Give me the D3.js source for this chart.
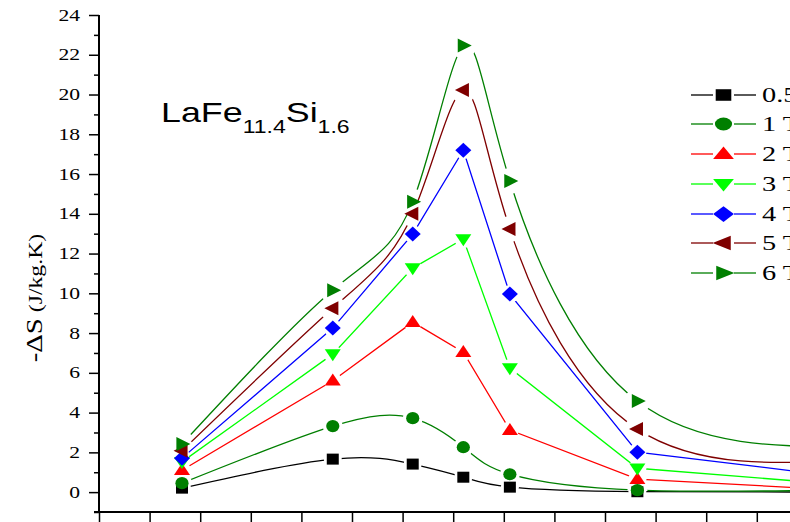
<!DOCTYPE html>
<html>
<head>
<meta charset="utf-8">
<script src="https://cdn.jsdelivr.net/npm/d3@7"></script>
<style>
  html, body { margin: 0; padding: 0; background: #fff; overflow: hidden; }
  svg { display: block; }
</style>
</head>
<body>
<svg id="chart" width="790" height="522"></svg>
<script>
// ---- Data ----
const temperatures = [178.2, 193.1, 201.0, 206.0, 210.6, 223.2, 245];
const field05 = [0.2, 1.66, 1.41, 0.75, 0.25, 0.02, 0.0];
const field1  = [0.45, 3.32, 3.72, 2.26, 0.9, 0.1, 0.12];
const field2  = [1.1, 5.6, 8.55, 7.04, 3.12, 0.65, 0.06];
const field3  = [1.52, 6.94, 11.27, 12.73, 6.24, 1.2, 0.31];
const field4  = [1.71, 8.25, 12.98, 17.2, 9.96, 2.01, 0.67];
const field5  = [2.08, 9.25, 14.0, 20.23, 13.23, 3.17, 1.65];
const field6  = [2.42, 10.16, 14.6, 22.46, 15.65, 4.58, 2.3];
const seriesNames = ["0.5 T", "1 T", "2 T", "3 T", "4 T", "5 T", "6 T"];
const yMajorTicks = [0, 2, 4, 6, 8, 10, 12, 14, 16, 18, 20, 22, 24];
const yMinorTicks = [-1, 1, 3, 5, 7, 9, 11, 13, 15, 17, 19, 21, 23];
const xTicks = [170, 175, 180, 185, 190, 195, 200, 205, 210, 215, 220, 225, 230, 235];
const yLabel = ["-ΔS", " (J/kg.K)"];
const titleParts = [["LaFe", false], ["11.4", true], ["Si", false], ["1.6", true]];

// ---- Styles ----
const styles = [
  { color: "#000000", shape: "square",   curve: "spline", gap: 9 },
  { color: "#007f00", shape: "circle",   curve: "spline", gap: 10 },
  { color: "#ff0000", shape: "triUp",    curve: "linear", gap: 9 },
  { color: "#00ff00", shape: "triDown",  curve: "linear", gap: 9 },
  { color: "#0000ff", shape: "diamond",  curve: "linear", gap: 9 },
  { color: "#7f0000", shape: "triLeft",  curve: "spline", gap: 13 },
  { color: "#007f00", shape: "triRight", curve: "spline", gap: 13 }
];
const allSeries = [field05, field1, field2, field3, field4, field5, field6];

const svg = d3.select("#chart");
const W = 790, H = 522;
const SX = 1.3; // horizontal stretch of the reference rendering

const x = d3.scaleLinear().domain([170, 170 + (790 - 99) / 50.6 * 5]).range([99, 790]);
const y = d3.scaleLinear().domain([-1, 24]).range([512, 15]);

function shapePath(shape, sx, sy) {
  const p = d3.path();
  switch (shape) {
    case "square": { const w = 12 * sx, h = 11 * sy; p.rect(-w/2, -h/2, w, h); break; }
    case "circle": { const rx = 6.6 * sx, ry = 6.1 * sy;
      return `M${-rx},0 A${rx},${ry} 0 1,0 ${rx},0 A${rx},${ry} 0 1,0 ${-rx},0 Z`; }
    case "triUp": { const w = 16 * sx, h = 12 * sy;
      p.moveTo(0, -h*0.6); p.lineTo(w/2, h*0.4); p.lineTo(-w/2, h*0.4); p.closePath(); break; }
    case "triDown": { const w = 16 * sx, h = 12 * sy;
      p.moveTo(0, h*0.6); p.lineTo(w/2, -h*0.4); p.lineTo(-w/2, -h*0.4); p.closePath(); break; }
    case "diamond": { const w = 16 * sx, h = 15 * sy;
      p.moveTo(0, -h/2); p.lineTo(w/2, 0); p.lineTo(0, h/2); p.lineTo(-w/2, 0); p.closePath(); break; }
    case "triLeft": { const w = 14 * sx, h = 14 * sy;
      p.moveTo(-w*0.6, 0); p.lineTo(w*0.4, -h/2); p.lineTo(w*0.4, h/2); p.closePath(); break; }
    case "triRight": { const w = 14 * sx, h = 14 * sy;
      p.moveTo(w*0.6, 0); p.lineTo(-w*0.4, -h/2); p.lineTo(-w*0.4, h/2); p.closePath(); break; }
  }
  return p.toString();
}

// ---- Axes ----
const yAxis = d3.axisLeft(y).tickValues(yMajorTicks).tickSize(10).tickFormat(d3.format("d"));
const yg = svg.append("g").attr("transform", "translate(99,0)").call(yAxis);
yg.select(".domain").attr("stroke-width", 2).attr("d", `M0,${y(24)}V${y(-1)}`);
yg.selectAll(".tick line").attr("stroke-width", 1.5);
yg.selectAll(".tick text")
  .attr("x", 0)
  .attr("transform", `translate(-19,0) scale(${SX + 0.05},1)`)
  .attr("font-family", "'Liberation Serif', 'Times New Roman', serif")
  .attr("font-size", 16).attr("fill", "#000");

const yMinor = d3.axisLeft(y).tickValues(yMinorTicks).tickSize(5).tickFormat("");
const ygm = svg.append("g").attr("transform", "translate(99,0)").call(yMinor);
ygm.select(".domain").remove();
ygm.selectAll(".tick line").attr("stroke-width", 1.5);

const xAxis = d3.axisBottom(x).tickValues(xTicks).tickSize(10).tickFormat("");
const xg = svg.append("g").attr("transform", "translate(0,512)").call(xAxis);
xg.select(".domain").attr("stroke-width", 2).attr("d", `M94,0H790`);
xg.selectAll(".tick line").attr("stroke-width", 1.5);

// y label
const yl = svg.append("text")
  .attr("transform", "translate(42,298) rotate(-90) scale(1.25,1)")
  .attr("text-anchor", "middle")
  .attr("font-family", "'Liberation Serif', 'Times New Roman', serif")
  .attr("fill", "#000");
yl.append("tspan").attr("font-size", 23).text(yLabel[0]);
yl.append("tspan").attr("font-size", 19).text(yLabel[1]);

// title
const tt = svg.append("text").attr("transform", `translate(161,122) scale(${SX - 0.02},1)`)
  .attr("font-family", "'Liberation Sans', Arial, sans-serif").attr("fill", "#000");
titleParts.forEach(([t, sub]) => {
  tt.append("tspan").attr("font-size", sub ? 18 : 28).attr("dy", sub ? 11 : -11).text(t);
});
tt.select("tspan").attr("dy", 0);

// ---- Series ----
const defs = svg.append("defs");
const plot = svg.append("g");

allSeries.forEach((vals, i) => {
  const st = styles[i];
  const pts = temperatures.map((t, k) => [x(t), y(vals[k])]);
  const m = defs.append("mask").attr("id", "gap" + i).attr("maskUnits", "userSpaceOnUse")
    .attr("x", 0).attr("y", 0).attr("width", W).attr("height", H);
  m.append("rect").attr("x", 0).attr("y", 0).attr("width", W).attr("height", H).attr("fill", "#fff");
  pts.forEach(p => m.append("circle").attr("cx", p[0]).attr("cy", p[1]).attr("r", st.gap).attr("fill", "#000"));
  const line = d3.line().curve(st.curve === "spline" ? d3.curveNatural : d3.curveLinear);
  plot.append("path").attr("d", line(pts)).attr("fill", "none")
    .attr("stroke", st.color).attr("stroke-width", 1.3).attr("mask", `url(#gap${i})`);
});

allSeries.forEach((vals, i) => {
  const st = styles[i];
  plot.append("g").selectAll("path").data(temperatures.map((t, k) => [t, vals[k]])).join("path")
    .attr("transform", d => `translate(${x(d[0])},${y(d[1])})`)
    .attr("d", shapePath(st.shape, 1, 1))
    .attr("fill", st.color);
});

// ---- Legend ----
const legRows = [95, 124, 154, 184, 214, 243, 273];
const leg = svg.append("g");
seriesNames.forEach((name, i) => {
  const st = styles[i];
  const g = leg.append("g").attr("transform", `translate(0,${legRows[i]})`);
  g.append("line").attr("x1", 691).attr("x2", 713).attr("y1", 0).attr("y2", 0).attr("stroke", st.color).attr("stroke-width", 1.3);
  g.append("line").attr("x1", 734).attr("x2", 756).attr("y1", 0).attr("y2", 0).attr("stroke", st.color).attr("stroke-width", 1.3);
  g.append("path").attr("transform", "translate(723.5,0)").attr("d", shapePath(st.shape, 1.3, 1.05)).attr("fill", st.color);
  g.append("text").attr("transform", `translate(762,0) scale(${SX + 0.05},1)`).attr("dy", "0.35em")
    .attr("font-family", "'Liberation Serif', 'Times New Roman', serif").attr("font-size", 21).attr("fill", "#000")
    .text(name);
});
</script>
</body>
</html>
